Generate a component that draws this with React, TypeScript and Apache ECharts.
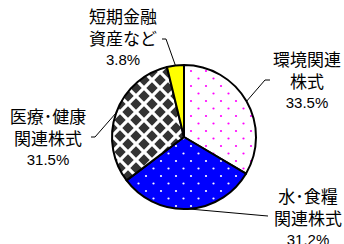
import React, { useEffect, useRef } from "react";
import * as echarts from "echarts";

const categories = ["環境関連\n株式", "水･食糧\n関連株式", "医療･健康\n関連株式", "短期金融\n資産など"];
const values = [33.5, 31.2, 31.5, 3.8];

const CX = 184;
const CY = 137;
const R = 72;

const labelAnchors = [
  { x: 307, y: 80, elbow: [265, 80], end: [270, 80] },
  { x: 308, y: 217, elbow: [262, 215.5], end: [268, 216] },
  { x: 48, y: 137, elbow: [95, 137], end: [91, 137] },
  { x: 123, y: 37, elbow: [166, 39], end: [162, 39] },
];

function makeTile(size: number, draw: (ctx: CanvasRenderingContext2D) => void) {
  const c = document.createElement("canvas");
  c.width = size;
  c.height = size;
  const ctx = c.getContext("2d") as CanvasRenderingContext2D;
  draw(ctx);
  return c;
}

function dotTile(bg: string, dot: string) {
  return makeTile(15, (ctx) => {
    ctx.fillStyle = bg;
    ctx.fillRect(0, 0, 15, 15);
    ctx.fillStyle = dot;
    [[3.5, 3.5], [11, 11]].forEach(([x, y]) => {
      ctx.beginPath();
      ctx.arc(x, y, 1.1, 0, Math.PI * 2);
      ctx.fill();
    });
  });
}

function checkerTile() {
  return makeTile(16, (ctx) => {
    ctx.fillStyle = "#ffffff";
    ctx.fillRect(0, 0, 16, 16);
    ctx.fillStyle = "#333333";
    try {
      (ctx as any).filter = "blur(0.7px)";
    } catch (e) {}
    const h = 5.7;
    const pts: number[][] = [];
    for (let ix = -1; ix <= 2; ix++) {
      for (let iy = -1; iy <= 2; iy++) {
        pts.push([ix * 16, iy * 16]);
        pts.push([ix * 16 + 8, iy * 16 + 8]);
      }
    }
    pts.forEach(([x, y]) => {
      ctx.beginPath();
      ctx.moveTo(x, y - h);
      ctx.lineTo(x + h, y);
      ctx.lineTo(x, y + h);
      ctx.lineTo(x - h, y);
      ctx.closePath();
      ctx.fill();
    });
  });
}

export default function App() {
  const ref = useRef<HTMLDivElement>(null);
  useEffect(() => {
    document.body.style.margin = "0";
    if (!ref.current) return;
    const chart = echarts.init(ref.current, undefined, { renderer: "svg" });
    const pink = dotTile("#ffffff", "#ff00ff");
    const blue = dotTile("#0000ff", "#ffffff");
    const checker = checkerTile();
    const fills: any[] = [
      { image: pink, repeat: "repeat", imageWidth: 15, imageHeight: 15 },
      { image: blue, repeat: "repeat", imageWidth: 15, imageHeight: 15 },
      { image: checker, repeat: "repeat", imageWidth: 16, imageHeight: 16 },
      "#ffff00",
    ];
    const total = values.reduce((a, b) => a + b, 0);
    const mids: number[] = [];
    let cum = 0;
    values.forEach((v) => {
      mids.push(((cum + v / 2) / total) * Math.PI * 2);
      cum += v;
    });
    const data = categories.map((name, i) => ({
      name,
      value: values[i],
      itemStyle: { color: fills[i] },
    }));
    chart.setOption({
      animation: false,
      series: [
        {
          type: "pie",
          center: [CX, CY],
          radius: R,
          startAngle: 90,
          clockwise: true,
          avoidLabelOverlap: false,
          itemStyle: { borderColor: "#000", borderWidth: 2 },
          emphasis: { disabled: true },
          label: {
            show: true,
            position: "outside",
            color: "#000",
            formatter: (p: any) =>
              String(p.name)
                .split("\n")
                .map((l: string) => `{n|${l}}`)
                .join("\n") + `\n{v|${p.value}%}`,
            rich: {
              n: {
                fontFamily: '"Noto Sans CJK JP"',
                fontSize: 17,
                lineHeight: 22,
                color: "#000",
                align: "center",
              },
              v: {
                fontFamily: '"Liberation Sans", Arial, sans-serif',
                fontSize: 15,
                lineHeight: 22,
                color: "#000",
                align: "center",
              },
            },
          },
          labelLine: { show: true, lineStyle: { color: "#000", width: 1 } },
          labelLayout: (params: any) => {
            const i = params.dataIndex;
            const a = labelAnchors[i];
            const t = mids[i];
            const ex = CX + R * Math.sin(t);
            const ey = CY - R * Math.cos(t);
            return {
              x: a.x,
              y: a.y,
              align: "center",
              verticalAlign: "middle",
              labelLinePoints: [[ex, ey], a.elbow, a.end],
            };
          },
          data,
        },
      ],
    });
    return () => chart.dispose();
  }, []);
  return <div ref={ref} style={{ width: 344, height: 244 }} />;
}
